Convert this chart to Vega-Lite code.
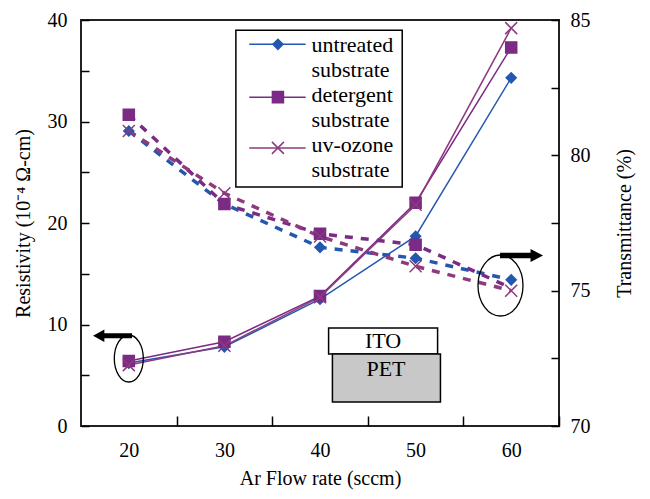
{
  "$schema": "https://vega.github.io/schema/vega-lite/v6.json",
  "width": 478,
  "height": 406,
  "autosize": "none",
  "padding": {"left": 81, "top": 20, "right": 91, "bottom": 73},
  "background": "white",
  "config": {
    "font": "Liberation Serif",
    "view": {"stroke": "#222222", "strokeWidth": 2, "fill": "transparent"},
    "axis": {
      "labelFont": "Liberation Serif",
      "titleFont": "Liberation Serif",
      "labelFontSize": 20,
      "titleFontSize": 20,
      "titleFontWeight": "normal",
      "labelColor": "black",
      "titleColor": "black",
      "domain": false,
      "ticks": true,
      "tickColor": "black",
      "tickWidth": 1.5,
      "grid": false,
      "zindex": 1
    }
  },
  "data": {
    "values": [
      {"flow": 20, "series": "untreated substrate", "res": 6.2, "trans": 80.9},
      {"flow": 30, "series": "untreated substrate", "res": 7.8, "trans": 78.2},
      {"flow": 40, "series": "untreated substrate", "res": 12.5, "trans": 76.6},
      {"flow": 50, "series": "untreated substrate", "res": 18.7, "trans": 76.2},
      {"flow": 60, "series": "untreated substrate", "res": 34.3, "trans": 75.4},
      {"flow": 20, "series": "detergent substrate", "res": 6.4, "trans": 81.5},
      {"flow": 30, "series": "detergent substrate", "res": 8.3, "trans": 78.2},
      {"flow": 40, "series": "detergent substrate", "res": 12.8, "trans": 77.1},
      {"flow": 50, "series": "detergent substrate", "res": 22.0, "trans": 76.7},
      {"flow": 60, "series": "detergent substrate", "res": 37.3, "trans": 75.1},
      {"flow": 20, "series": "uv-ozone substrate", "res": 6.0, "trans": 80.9},
      {"flow": 30, "series": "uv-ozone substrate", "res": 7.9, "trans": 78.6},
      {"flow": 40, "series": "uv-ozone substrate", "res": 12.7, "trans": 77.0},
      {"flow": 50, "series": "uv-ozone substrate", "res": 21.8, "trans": 75.9},
      {"flow": 60, "series": "uv-ozone substrate", "res": 39.2, "trans": 75.0}
    ]
  },
  "layer": [
    {
      "mark": {"type": "line", "strokeWidth": 1.5},
      "encoding": {
        "x": {
          "field": "flow", "type": "quantitative",
          "scale": {"domain": [15, 65], "nice": false, "zero": false},
          "axis": {
            "title": "Ar Flow rate (sccm)",
            "values": [20, 30, 40, 50, 60],
            "offset": -10,
            "tickSize": 10,
            "tickOffset": 47.8,
            "labelOffset": -47.8,
            "labelPadding": 14,
            "titlePadding": 8
          }
        },
        "y": {
          "field": "res", "type": "quantitative",
          "scale": {"domain": [0, 40], "nice": false},
          "axis": {
            "orient": "left",
            "title": "Resistivity (10⁻⁴ Ω-cm)",
            "values": [0, 10, 20, 30, 40],
            "offset": -8,
            "tickSize": 8,
            "labelPadding": 14,
            "titlePadding": 14
          }
        },
        "color": {
          "field": "series", "type": "nominal",
          "scale": {"domain": ["untreated substrate", "detergent substrate", "uv-ozone substrate"], "range": ["#2458b0", "#7b2a85", "#8e3a7e"]},
          "legend": null
        }
      }
    },
    {
      "mark": {"type": "line", "strokeWidth": 3.5, "strokeDash": [8, 8]},
      "encoding": {
        "x": {"field": "flow", "type": "quantitative"},
        "y": {
          "field": "trans", "type": "quantitative",
          "scale": {"domain": [70, 85], "nice": false, "zero": false},
          "axis": {
            "orient": "right",
            "title": "Transmittance (%)",
            "titleAngle": 270,
            "titleBaseline": "top",
            "values": [70, 72.5, 75, 77.5, 80, 82.5, 85],
            "labelExpr": "datum.value % 5 === 0 ? datum.label : ''",
            "offset": -8,
            "tickSize": 8,
            "labelPadding": 11,
            "titlePadding": 24
          }
        },
        "color": {"field": "series", "type": "nominal", "legend": null}
      }
    },
    {
      "mark": {"type": "point", "filled": true, "strokeWidth": 1.5, "opacity": 1},
      "encoding": {
        "x": {"field": "flow", "type": "quantitative"},
        "y": {
          "field": "res", "type": "quantitative",
          "scale": {"domain": [0, 40], "nice": false},
          "axis": {"orient": "left", "title": null, "values": [5, 15, 25, 35], "labels": false, "offset": -8, "tickSize": 8}
        },
        "shape": {"field": "series", "type": "nominal", "scale": {"domain": ["untreated substrate", "detergent substrate", "uv-ozone substrate"], "range": ["diamond", "square", "M-1,-1L1,1M-1,1L1,-1"]}, "legend": null},
        "fill": {"field": "series", "type": "nominal", "scale": {"domain": ["untreated substrate", "detergent substrate", "uv-ozone substrate"], "range": ["#2458b0", "#7b2a85", "transparent"]}, "legend": null},
        "stroke": {"field": "series", "type": "nominal", "scale": {"domain": ["untreated substrate", "detergent substrate", "uv-ozone substrate"], "range": ["#2458b0", "#7b2a85", "#8e3a7e"]}, "legend": null},
        "size": {"field": "series", "type": "nominal", "scale": {"domain": ["untreated substrate", "detergent substrate", "uv-ozone substrate"], "range": [100, 144, 144]}, "legend": null}
      }
    },
    {
      "transform": [{"filter": "!(datum.series === 'detergent substrate' && datum.flow === 60)"}],
      "mark": {"type": "point", "filled": true, "strokeWidth": 1.5, "opacity": 1},
      "encoding": {
        "x": {"field": "flow", "type": "quantitative"},
        "y": {"field": "trans", "type": "quantitative", "scale": {"domain": [70, 85], "nice": false, "zero": false}, "axis": null},
        "shape": {"field": "series", "type": "nominal", "legend": null},
        "fill": {"field": "series", "type": "nominal", "legend": null},
        "stroke": {"field": "series", "type": "nominal", "legend": null},
        "size": {"field": "series", "type": "nominal", "legend": null}
      }
    },
    {
      "data": {"values": [{}]},
      "mark": {"type": "rect", "fill": "white", "stroke": "black", "strokeWidth": 1.5},
      "encoding": {
        "x": {"datum": 31.2, "type": "quantitative"},
        "x2": {"datum": 48.6},
        "y": {"datum": 39.0, "type": "quantitative", "scale": {"domain": [0, 40], "nice": false}, "axis": null},
        "y2": {"datum": 23.55}
      }
    },
    {
      "data": {"values": [{"series": "untreated substrate", "ly": 37.6}, {"series": "detergent substrate", "ly": 32.4}, {"series": "uv-ozone substrate", "ly": 27.4}]},
      "mark": {"type": "rule", "strokeWidth": 1.5},
      "encoding": {
        "x": {"datum": 32.6, "type": "quantitative"},
        "x2": {"datum": 38.5},
        "y": {"field": "ly", "type": "quantitative", "scale": {"domain": [0, 40], "nice": false}, "axis": null},
        "color": {"field": "series", "type": "nominal", "legend": null}
      }
    },
    {
      "data": {"values": [{"series": "untreated substrate", "ly": 37.6}, {"series": "detergent substrate", "ly": 32.4}, {"series": "uv-ozone substrate", "ly": 27.4}]},
      "mark": {"type": "point", "filled": true, "strokeWidth": 1.5, "opacity": 1},
      "encoding": {
        "x": {"datum": 35.6, "type": "quantitative"},
        "y": {"field": "ly", "type": "quantitative", "scale": {"domain": [0, 40], "nice": false}, "axis": null},
        "shape": {"field": "series", "type": "nominal", "legend": null},
        "fill": {"field": "series", "type": "nominal", "legend": null},
        "stroke": {"field": "series", "type": "nominal", "legend": null},
        "size": {"field": "series", "type": "nominal", "legend": null}
      }
    },
    {
      "data": {"values": [
        {"label": "untreated", "ly": 36.85},
        {"label": "substrate", "ly": 34.4},
        {"label": "detergent", "ly": 31.92},
        {"label": "substrate", "ly": 29.47},
        {"label": "uv-ozone", "ly": 27.0},
        {"label": "substrate", "ly": 24.55}
      ]},
      "mark": {"type": "text", "align": "left", "baseline": "alphabetic", "font": "Liberation Serif", "fontSize": 22, "color": "black"},
      "encoding": {
        "x": {"datum": 39.1, "type": "quantitative"},
        "y": {"field": "ly", "type": "quantitative", "scale": {"domain": [0, 40], "nice": false}, "axis": null},
        "text": {"field": "label"}
      }
    },
    {
      "data": {"values": [{}]},
      "mark": {"type": "rect", "fill": "white", "stroke": "black", "strokeWidth": 1.5},
      "encoding": {
        "x": {"datum": 40.9, "type": "quantitative"},
        "x2": {"datum": 52.3},
        "y": {"datum": 9.66, "type": "quantitative", "scale": {"domain": [0, 40], "nice": false}, "axis": null},
        "y2": {"datum": 7.09}
      }
    },
    {
      "data": {"values": [{}]},
      "mark": {"type": "rect", "fill": "#c8c8c8", "stroke": "black", "strokeWidth": 1.5},
      "encoding": {
        "x": {"datum": 41.3, "type": "quantitative"},
        "x2": {"datum": 52.6},
        "y": {"datum": 7.09, "type": "quantitative", "scale": {"domain": [0, 40], "nice": false}, "axis": null},
        "y2": {"datum": 2.36}
      }
    },
    {
      "data": {"values": [{"label": "ITO", "lx": 46.6, "ly": 8.37}, {"label": "PET", "lx": 46.9, "ly": 5.6}]},
      "mark": {"type": "text", "align": "center", "baseline": "middle", "font": "Liberation Serif", "fontSize": 22, "color": "black"},
      "encoding": {
        "x": {"field": "lx", "type": "quantitative"},
        "y": {"field": "ly", "type": "quantitative", "scale": {"domain": [0, 40], "nice": false}, "axis": null},
        "text": {"field": "label"}
      }
    },
    {
      "data": {"values": [{}]},
      "mark": {"type": "point", "shape": "M0,-1 C0.34,-1 0.617,-0.552 0.617,0 C0.617,0.552 0.34,1 0,1 C-0.34,1 -0.617,0.552 -0.617,0 C-0.617,-0.552 -0.34,-1 0,-1 Z", "filled": false, "color": "black", "strokeWidth": 1.3, "size": 2209, "opacity": 1},
      "encoding": {
        "x": {"datum": 20.0, "type": "quantitative"},
        "y": {"datum": 6.65, "type": "quantitative", "scale": {"domain": [0, 40], "nice": false}, "axis": null}
      }
    },
    {
      "data": {"values": [{}]},
      "mark": {"type": "point", "shape": "M0,-1 C0.407,-1 0.738,-0.552 0.738,0 C0.738,0.552 0.407,1 0,1 C-0.407,1 -0.738,0.552 -0.738,0 C-0.738,-0.552 -0.407,-1 0,-1 Z", "filled": false, "color": "black", "strokeWidth": 1.3, "size": 3721, "opacity": 1},
      "encoding": {
        "x": {"datum": 58.88, "type": "quantitative"},
        "y": {"datum": 13.84, "type": "quantitative", "scale": {"domain": [0, 40], "nice": false}, "axis": null}
      }
    },
    {
      "data": {"values": [{}]},
      "mark": {"type": "point", "shape": "M-1,0 L-0.42,-0.32 L-0.42,-0.13 L1,-0.13 L1,0.13 L-0.42,0.13 L-0.42,0.32 Z", "filled": true, "color": "black", "size": 1521, "opacity": 1},
      "encoding": {
        "x": {"datum": 18.3, "type": "quantitative"},
        "y": {"datum": 8.9, "type": "quantitative", "scale": {"domain": [0, 40], "nice": false}, "axis": null}
      }
    },
    {
      "data": {"values": [{}]},
      "mark": {"type": "point", "shape": "M1,0 L0.42,-0.3 L0.42,-0.13 L-1,-0.13 L-1,0.13 L0.42,0.13 L0.42,0.3 Z", "filled": true, "color": "black", "size": 1849, "opacity": 1},
      "encoding": {
        "x": {"datum": 61.08, "type": "quantitative"},
        "y": {"datum": 16.8, "type": "quantitative", "scale": {"domain": [0, 40], "nice": false}, "axis": null}
      }
    }
  ],
  "resolve": {"scale": {"y": "independent"}}
}
